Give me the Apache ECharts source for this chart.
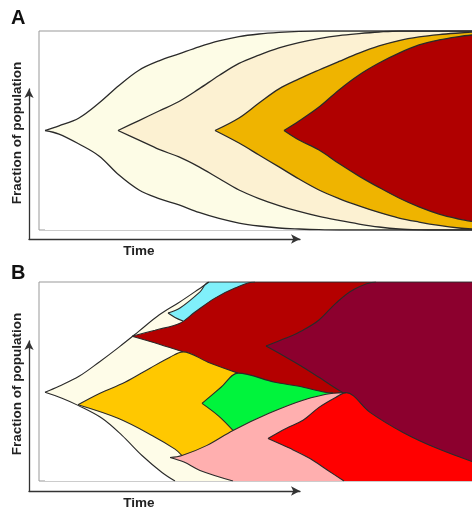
<!DOCTYPE html>
<html>
<head>
<meta charset="utf-8">
<script src="https://cdn.jsdelivr.net/npm/echarts@6/dist/echarts.min.js"></script>
<style>
html, body { margin: 0; padding: 0; background: #fff; }
#main { width: 472px; height: 515px; }
</style>
</head>
<body>
<div id="main"></div>
<script>
// edges of each clone, [time, fraction of population (%)], time runs 0..433
// panel A
var aClone1Upper = [[6,50],[20,52.3],[40,56.3],[60,63.8],[80,72.6],[100,80.3],[120,85],[140,88.5],[160,92],[180,95],[200,97.2],[220,98.5],[240,99.3],[260,99.8],[280,100],[433,100]];
var aClone2Upper = [[79,50],[100,55],[120,59.8],[140,64.6],[160,70.9],[180,77.6],[200,83.7],[220,87.9],[240,91.5],[260,94.2],[280,96.2],[300,97.7],[320,98.7],[340,99.5],[360,100],[433,100]];
var aClone3Upper = [[176,50],[200,56.3],[220,63.8],[240,70.9],[260,75.9],[280,80.4],[300,84.7],[320,88.9],[340,92.5],[360,95.2],[380,97],[400,98.2],[420,99],[433,99.4]];
var aClone4Upper = [[245,50],[260,54.8],[280,61.8],[300,70.4],[320,77.9],[340,83.9],[360,88.9],[380,93],[400,95.5],[420,97.2],[433,98]];
var aClone4Lower = [[245,50],[260,45.2],[280,40.2],[300,33.4],[320,27.1],[340,21.4],[360,16.1],[380,11.6],[400,8],[420,5.5],[433,4.3]];
var aClone3Lower = [[176,50],[200,43.7],[220,37.7],[240,31.7],[260,25.6],[280,20.1],[300,15.8],[320,12.1],[340,8.8],[360,6],[380,4],[400,2.3],[420,1],[433,0.5]];
var aClone2Lower = [[79,50],[100,45.2],[120,40.5],[140,36.7],[160,31.7],[180,25.9],[200,20.1],[220,15.8],[240,12.3],[260,9.3],[280,6.8],[300,4.8],[320,3],[340,1.5],[360,0.5],[380,0.1],[400,0],[433,0]];
var aClone1Lower = [[6,50],[20,48.2],[40,43.2],[60,37.2],[80,27.6],[100,20.1],[120,15.8],[140,12.6],[160,8.8],[180,5.8],[200,3.5],[220,2],[240,1],[260,0.5],[280,0.15],[300,0],[433,0]];

// panel B
var bClone1Upper = [[6,44.6],[20,47.6],[40,52.6],[60,59.7],[80,67.3],[100,75.3],[120,83.4],[140,89.7],[160,96.5],[170,100]];
var bCyanUpper = [[129,84.4],[141,86.9],[161,95],[170,100],[216,100]];
var bCyanLower = [[129,84.4],[136,82.2],[144,80.4]];
var bDarkRedUpper = [[93,72.7],[116,75.8],[141,79.3],[156,84.9],[176,91.9],[196,97],[216,100],[337,100]];
var bMaroonUpper = [[227,67.8],[247,71.8],[264,75.8],[280,80.9],[297,89.4],[314,96],[337,100],[433,100]];
var bMaroonLower = [[227,67.8],[247,62.2],[264,57.2],[280,52.1],[292,48.1],[304,44.4]];
var bDarkRedLower = [[93,72.7],[121,68.6],[144,64.9]];
var bOrangeUpper = [[39,38.3],[61,44.1],[86,49.6],[111,56.7],[131,62.2],[144,64.9],[169,59.7],[199,54.2]];
var bGreenUpper = [[163,39],[182,47.1],[199,54.2],[236,49.6],[260,47.6],[286,44.6],[294,44.3]];
var bGreenLower = [[163,39],[180,32.5],[194,25.4]];
var bOrangeLower = [[39,38.3],[79,31.5],[113,22.9],[136,16],[143,12.8]];
var bPinkUpper = [[131,11.8],[143,12.8],[168,17.9],[194,25.4],[230,34],[264,40.6],[294,44.1],[307,44.4]];
var bRedUpper = [[229,21.4],[247,26.4],[264,30.5],[280,37],[297,42.1],[307,44.4],[331,34.5],[364,24.4],[398,16.4],[433,9.8]];
var bRedLower = [[229,21.4],[251,16.4],[271,11.3],[289,5.3],[305,0]];
var bPinkLower = [[131,11.8],[145,9.5],[161,5.3],[194,0]];
var bClone1Lower = [[6,44.6],[23,41.6],[39,38],[63,31.5],[83,22.9],[103,12.8],[123,4.3],[136,0]];

var font = '"Liberation Sans", Arial, sans-serif';
var myChart = echarts.init(document.getElementById('main'));
var series = [];

// every edge fills down to the axis with the colour of the band under it,
// edges are added from the top band down so lower ones paint over
function addEdge(grid, data, fill, lw) {
    series.push({
        type: 'line', xAxisIndex: grid, yAxisIndex: grid, data: data,
        smooth: 0.35, symbol: 'none', silent: true, z: 2,
        lineStyle: { width: 0 },
        areaStyle: { color: fill, opacity: 1, origin: 'start' }
    });
    series.push({
        type: 'line', xAxisIndex: grid, yAxisIndex: grid, data: data,
        smooth: 0.35, symbol: 'none', silent: true, z: 3,
        lineStyle: { color: '#2a2a2a', width: lw }
    });
}

// A
addEdge(0, aClone1Upper, '#FDFCE6', 1.3);
addEdge(0, aClone2Upper, '#FCF1D2', 1.3);
addEdge(0, aClone3Upper, '#EFB400', 1.3);
addEdge(0, aClone4Upper, '#B00000', 1.3);
addEdge(0, aClone4Lower, '#EFB400', 1.3);
addEdge(0, aClone3Lower, '#FCF1D2', 1.3);
addEdge(0, aClone2Lower, '#FDFCE6', 1.3);
addEdge(0, aClone1Lower, '#FFFFFF', 1.3);

// B
addEdge(1, bClone1Upper, '#FEFCE8', 1.1);
addEdge(1, bCyanUpper, '#80F0FA', 1.1);
addEdge(1, bCyanLower, '#FEFCE8', 1.1);
addEdge(1, bDarkRedUpper, '#B40000', 1.1);
addEdge(1, bMaroonUpper, '#8C002E', 1.1);
addEdge(1, bMaroonLower, '#B40000', 1.1);
addEdge(1, bDarkRedLower, '#FEFCE8', 1.1);
addEdge(1, bOrangeUpper, '#FFC800', 1.1);
addEdge(1, bGreenUpper, '#00F43C', 1.1);
addEdge(1, bGreenLower, '#FFC800', 1.1);
addEdge(1, bOrangeLower, '#FEFCE8', 1.1);
addEdge(1, bPinkUpper, '#FFAFAF', 1.1);
addEdge(1, bRedUpper, '#FF0000', 1.1);
addEdge(1, bRedLower, '#FFAFAF', 1.1);
addEdge(1, bPinkLower, '#FEFCE8', 1.1);
addEdge(1, bClone1Lower, '#FFFFFF', 1.1);

var timeAxis = { type: 'value', min: 0, max: 433, show: false };
var fracAxis = { type: 'value', min: 0, max: 100, show: false };
var arrowAxis = {
    type: 'value', min: 0, max: 1,
    axisLine: { show: true, onZero: false, symbol: ['none', 'arrow'], symbolSize: [7, 9],
                lineStyle: { color: '#333', width: 1.3 } },
    axisTick: { show: false }, axisLabel: { show: false }, splitLine: { show: false }
};
function onGrid(axis, i) { return echarts.util.merge({ gridIndex: i }, axis); }

option = {
    animation: false,
    grid: [
        { left: 39, top: 31, width: 433, height: 199, show: true, backgroundColor: '#fff', borderColor: '#999', borderWidth: 1 },
        { left: 39, top: 282, width: 433, height: 199, show: true, backgroundColor: '#fff', borderColor: '#999', borderWidth: 1 },
        { left: 29, top: 89, width: 271, height: 150 },
        { left: 29, top: 341, width: 271, height: 150 }
    ],
    xAxis: [onGrid(timeAxis, 0), onGrid(timeAxis, 1), onGrid(arrowAxis, 2), onGrid(arrowAxis, 3)],
    yAxis: [onGrid(fracAxis, 0), onGrid(fracAxis, 1), onGrid(arrowAxis, 2), onGrid(arrowAxis, 3)],
    graphic: [
        { type: 'text', x: 11, y: 8, style: { text: 'A', font: 'bold 20px ' + font, fill: '#111' } },
        { type: 'text', x: 11, y: 263, style: { text: 'B', font: 'bold 20px ' + font, fill: '#111' } },
        { type: 'text', x: 139, y: 251, style: { text: 'Time', font: 'bold 13.5px ' + font, fill: '#222', align: 'center', verticalAlign: 'middle' } },
        { type: 'text', x: 139, y: 503, style: { text: 'Time', font: 'bold 13.5px ' + font, fill: '#222', align: 'center', verticalAlign: 'middle' } },
        { type: 'text', x: 17, y: 133, rotation: Math.PI / 2, style: { text: 'Fraction of population', font: 'bold 13.5px ' + font, fill: '#222', align: 'center', verticalAlign: 'middle' } },
        { type: 'text', x: 17, y: 384, rotation: Math.PI / 2, style: { text: 'Fraction of population', font: 'bold 13.5px ' + font, fill: '#222', align: 'center', verticalAlign: 'middle' } }
    ],
    series: series
};

myChart.setOption(option);
</script>
</body>
</html>
